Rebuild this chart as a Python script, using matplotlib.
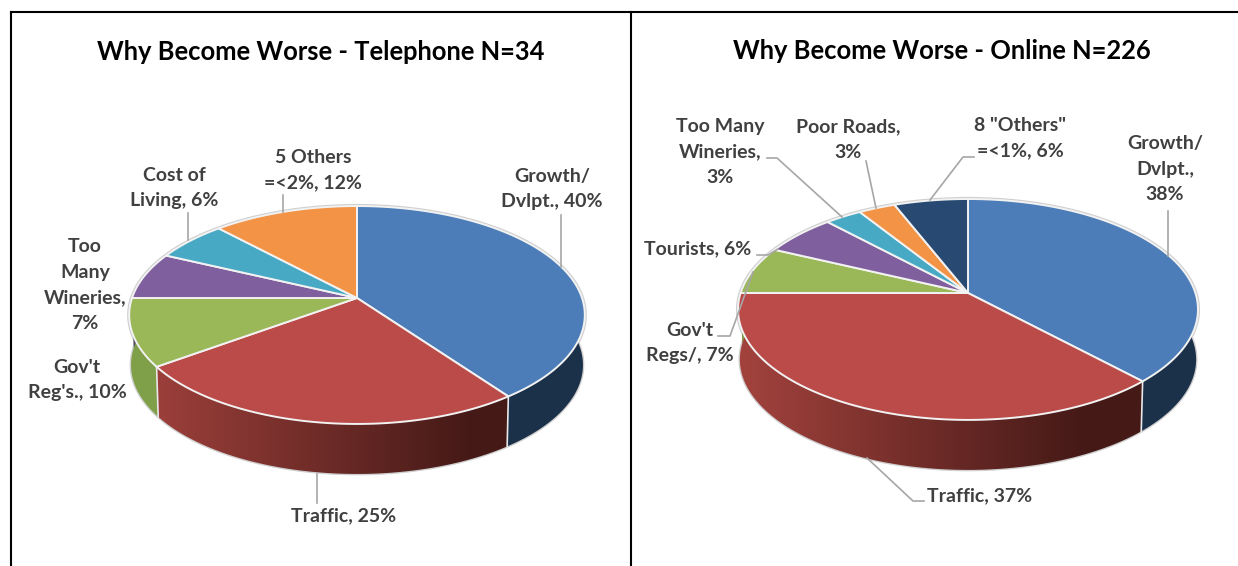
import numpy as np
import matplotlib
matplotlib.use('Agg')
import matplotlib.pyplot as plt
from matplotlib.patches import Polygon

plt.rcParams['font.family'] = ['Lato', 'DejaVu Sans']

BLUE, RED, GREEN, PURPLE, TEAL, ORANGE, NAVY = ('#4C7DB8', '#BB4B49', '#9AB858', '#7F5F9E',
                                                '#48A9C4', '#F39345', '#284A72')

# values, clockwise from 12 o'clock
phone_names = ['Growth', 'Traffic', 'Gov', 'Wineries', 'Cost', 'Others']
phone_vals = [40, 25, 10, 7, 6, 12]
phone_cols = [BLUE, RED, GREEN, PURPLE, TEAL, ORANGE]

web_names = ['Growth', 'Traffic', 'Gov', 'Tourists', 'Wineries', 'Roads', 'Others']
web_vals = [38, 37, 7, 6, 3, 3, 6]
web_cols = [BLUE, RED, GREEN, PURPLE, TEAL, ORANGE, NAVY]

side_cols = {BLUE: '#1B3049', GREEN: '#7F9F48', PURPLE: '#5A4673',
             TEAL: '#2F7A8E', ORANGE: '#B06A2E', NAVY: '#1B3049'}
red_left = np.array([0.64, 0.26, 0.24])
red_right = np.array([0.27, 0.10, 0.09])

fig = plt.figure(figsize=(12.38, 5.66), dpi=100)
ax = fig.add_axes([0, 0, 1, 1])
ax.axis('off')


def project(t, cx, cy, f, g, k):
    # circle seen in perspective, apex stays at (cx, cy)
    d = 1 + k * np.cos(t)
    return cx + f * np.sin(t) / d, cy - g * np.cos(t) / d


def draw_pie(vals, cols, cx, cy, f, g, k, depth):
    edges = np.cumsum([0] + list(vals)) / sum(vals) * 2 * np.pi
    tt = np.linspace(0, 2 * np.pi, 721)
    x, y = project(tt, cx, cy, f, g, k)
    xb = cx + (x - cx) * 0.992
    yb = y + depth
    # grey rim behind everything
    ax.plot(x, y, color='#CFCFCF', lw=3, zorder=1)
    ax.plot(xb, yb, color='#CFCFCF', lw=2, zorder=1)
    xmin, xmax = x.min(), x.max()
    for i, c in enumerate(cols):
        t = np.linspace(edges[i], edges[i + 1], 200)
        t = t[np.cos(t) < 0.45]
        if len(t) < 2:
            continue
        xt, yt = project(t, cx, cy, f, g, k)
        xo = cx + (xt - cx) * 0.992
        yo = yt + depth
        pts = np.column_stack([np.r_[xt, xo[::-1]], np.r_[yt, yo[::-1]]])
        if c == RED:
            # the red side darkens from left to right
            s = np.clip((np.linspace(xmin, xmax, 300) - xmin) / (xmax - xmin) / 0.75, 0, 1)
            grad = red_left[None, None, :] + (red_right - red_left)[None, None, :] * s[None, :, None]
            im = ax.imshow(grad, extent=(xmin, xmax, y.max() + depth + 2, y.min()),
                           aspect='auto', zorder=2, interpolation='bilinear')
            im.set_clip_path(Polygon(pts, closed=True, transform=ax.transData))
        else:
            ax.add_patch(Polygon(pts, closed=True, fc=side_cols[c], ec='none', zorder=2))
        # light seam where two walls meet
        if i > 0 and np.cos(edges[i]) < -0.2:
            xs, ys = project(edges[i], cx, cy, f, g, k)
            ax.plot([xs, cx + (xs - cx) * 0.992], [ys, ys + depth], color='#E8E8E8', lw=1.2, zorder=3)
    for i, c in enumerate(cols):
        t = np.linspace(edges[i], edges[i + 1], 200)
        xt, yt = project(t, cx, cy, f, g, k)
        pts = np.column_stack([np.r_[cx, xt], np.r_[cy, yt]])
        ax.add_patch(Polygon(pts, closed=True, fc=c, ec='#F2F2F2', lw=1.4, joinstyle='round', zorder=4))


draw_pie(phone_vals, phone_cols, 357, 298, 225, 106.3, 0.156, 50)
draw_pie(web_vals, web_cols, 968, 293, 227.4, 108, 0.149, 50)

ax.set_xlim(0, 1238)
ax.set_ylim(566, 0)

# table frame
ax.plot([11, 11], [566, 12], color='black', lw=1.5, zorder=6, solid_capstyle='projecting')
ax.plot([11, 1238], [12, 12], color='black', lw=1.5, zorder=6)
ax.plot([631, 631], [12, 566], color='black', lw=1.5, zorder=6)

ax.text(320.5, 52, 'Why Become Worse - Telephone N=34', ha='center', va='center',
        fontsize=18.4, fontweight='bold', color='black', zorder=7)
ax.text(942, 51, 'Why Become Worse - Online N=226', ha='center', va='center',
        fontsize=18.4, fontweight='bold', color='black', zorder=7)

# data labels
labels = [
    (552, 189, 'Growth/\nDvlpt., 40%'),
    (344, 516, 'Traffic, 25%'),
    (77, 380, "Gov't\nReg's., 10%"),
    (85, 285, 'Too\nMany\nWineries,\n7%'),
    (174, 188, 'Cost of\nLiving, 6%'),
    (313, 170, '5 Others\n=<2%, 12%'),
    (1165, 169, 'Growth/\nDvlpt.,\n38%'),
    (980, 496, 'Traffic, 37%'),
    (690, 343, "Gov't\nRegs/, 7%"),
    (698, 249, 'Tourists, 6%'),
    (720, 152, 'Too Many\nWineries,\n3%'),
    (848, 140, 'Poor Roads,\n3%'),
    (1020, 138, '8 "Others"\n=<1%, 6%'),
]
for lx, ly, s in labels:
    ax.text(lx, ly, s, ha='center', va='center', fontsize=14, fontweight='bold',
            color='#404040', linespacing=1.62, zorder=7)

# leader lines
leaders = [
    ([561, 561], [215, 267]),
    ([317, 317], [474, 503]),
    ([283, 283], [195, 212]),
    ([188, 188], [213, 240]),
    ([1168, 1168], [211, 256]),
    ([867, 913, 924], [458, 501, 501]),
    ([718, 730, 753], [336, 336, 272]),
    ([757, 768, 778], [255, 255, 249]),
    ([767, 777, 842], [158, 158, 217]),
    ([866, 876], [161, 208]),
    ([974, 963, 930], [157, 157, 200]),
]
for xs, ys in leaders:
    ax.plot(xs, ys, color='#A6A6A6', lw=1.2, zorder=5)

fig.savefig('out.png', dpi=100)
